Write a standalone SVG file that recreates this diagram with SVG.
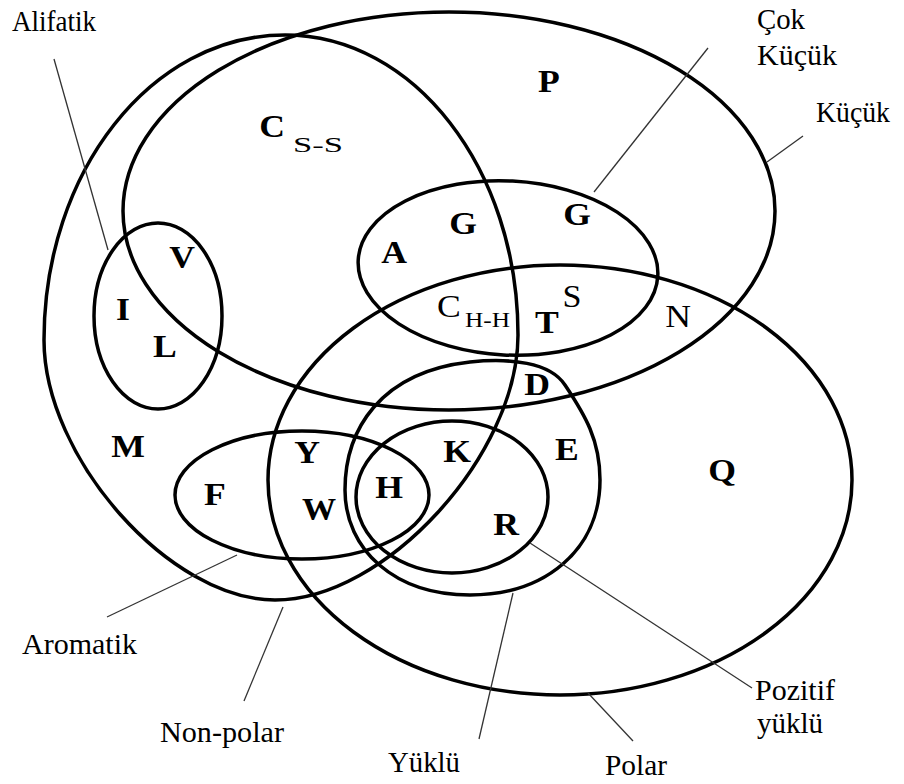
<svg xmlns="http://www.w3.org/2000/svg" width="904" height="784" viewBox="0 0 904 784">
<style>
.set{fill:none;stroke:#000;stroke-width:3.5}
.ld{stroke:#333;stroke-width:1.3;fill:none}
.lb{font-family:"Liberation Serif","Times New Roman",serif;font-size:30px;fill:#000}
.b{font-family:"Liberation Serif","Times New Roman",serif;font-size:31px;font-weight:bold;fill:#000;text-anchor:middle}
.r{font-family:"Liberation Serif","Times New Roman",serif;font-size:31px;fill:#000;text-anchor:middle}
.s{font-family:"Liberation Serif","Times New Roman",serif;font-size:22px;fill:#000}
</style>
<rect width="904" height="784" fill="#fff"/>
<g id="kucuk"><ellipse class="set" cx="449" cy="211" rx="326" ry="199"/></g>
<g id="nonpolar"><path class="set" d="M285,35 C414,35 518,169 518,335 C518,455 385,600 275,600 C170,600 44,458 44,340 C44,172 151,35 285,35 Z"/></g>
<g id="polar"><ellipse class="set" cx="560" cy="480" rx="292" ry="215"/></g>
<g id="cokkucuk"><ellipse class="set" cx="508" cy="268" rx="150" ry="87" transform="rotate(3 508 268)"/></g>
<g id="alifatik"><ellipse class="set" cx="158" cy="316" rx="64" ry="93"/></g>
<g id="aromatik"><ellipse class="set" cx="302" cy="495" rx="127" ry="64"/></g>
<g id="yuklu"><path class="set" d="M345,490 C345,430 380,372 470,362 C510,358 550,362 565,385 C585,415 600,440 600,480 C600,550 545,595 470,595 C395,595 345,550 345,490 Z"/></g>
<g id="pozitif"><ellipse class="set" cx="452" cy="497" rx="96" ry="76"/></g>
<g id="connectors">
<line class="ld" x1="54" y1="59" x2="108" y2="250"/>
<line class="ld" x1="708" y1="48" x2="594" y2="192"/>
<line class="ld" x1="803" y1="136" x2="767" y2="162"/>
<line class="ld" x1="107" y1="617" x2="237" y2="555"/>
<line class="ld" x1="283" y1="607" x2="244" y2="701"/>
<line class="ld" x1="513" y1="593" x2="479" y2="739"/>
<line class="ld" x1="588" y1="693" x2="633" y2="741"/>
<line class="ld" x1="530" y1="543" x2="752" y2="688"/>
</g>
<g id="labels">
<text class="lb" x="12" y="31" textLength="84" lengthAdjust="spacingAndGlyphs">Alifatik</text>
<text class="lb" x="757" y="29" textLength="48" lengthAdjust="spacingAndGlyphs">Çok</text>
<text class="lb" x="757" y="65" textLength="80" lengthAdjust="spacingAndGlyphs">Küçük</text>
<text class="lb" x="816" y="122" textLength="74" lengthAdjust="spacingAndGlyphs">Küçük</text>
<text class="lb" x="22" y="654" textLength="115" lengthAdjust="spacingAndGlyphs">Aromatik</text>
<text class="lb" x="160" y="742" textLength="124" lengthAdjust="spacingAndGlyphs">Non-polar</text>
<text class="lb" x="388" y="772" textLength="72" lengthAdjust="spacingAndGlyphs">Yüklü</text>
<text class="lb" x="605" y="775" textLength="62" lengthAdjust="spacingAndGlyphs">Polar</text>
<text class="lb" x="755" y="700" textLength="80" lengthAdjust="spacingAndGlyphs">Pozitif</text>
<text class="lb" x="757" y="733" textLength="66" lengthAdjust="spacingAndGlyphs">yüklü</text>
</g>
<g id="residues">
<text class="b" transform="translate(549,92) scale(1.15,1)">P</text>
<text class="b" transform="translate(272,137) scale(1.15,1)">C</text>
<text class="s" x="293" y="152" textLength="50" lengthAdjust="spacingAndGlyphs">S-S</text>
<text class="b" transform="translate(182,268) scale(1.15,1)">V</text>
<text class="b" transform="translate(123,320) scale(1.15,1)">I</text>
<text class="b" transform="translate(165,357) scale(1.15,1)">L</text>
<text class="b" transform="translate(394,263) scale(1.15,1)">A</text>
<text class="b" transform="translate(463,234) scale(1.15,1)">G</text>
<text class="b" transform="translate(577,225) scale(1.15,1)">G</text>
<text class="r" transform="translate(449,317) scale(1.15,1)">C</text>
<text class="s" x="465" y="327" textLength="45" lengthAdjust="spacingAndGlyphs">H-H</text>
<text class="r" transform="translate(572,307) scale(1.1,1)">S</text>
<text class="b" transform="translate(547,333) scale(1.15,1)">T</text>
<text class="r" transform="translate(678,327) scale(1.15,1)">N</text>
<text class="b" transform="translate(537,395) scale(1.15,1)">D</text>
<text class="b" transform="translate(128,457) scale(1.15,1)">M</text>
<text class="b" transform="translate(215,505) scale(1.15,1)">F</text>
<text class="b" transform="translate(307,463) scale(1.15,1)">Y</text>
<text class="b" transform="translate(319,520) scale(1.1,1)">W</text>
<text class="b" transform="translate(389,498) scale(1.15,1)">H</text>
<text class="b" transform="translate(457,462) scale(1.15,1)">K</text>
<text class="b" transform="translate(567,460) scale(1.15,1)">E</text>
<text class="b" transform="translate(506,535) scale(1.15,1)">R</text>
<text class="b" transform="translate(722,481) scale(1.15,1)">Q</text>
</g>
</svg>
